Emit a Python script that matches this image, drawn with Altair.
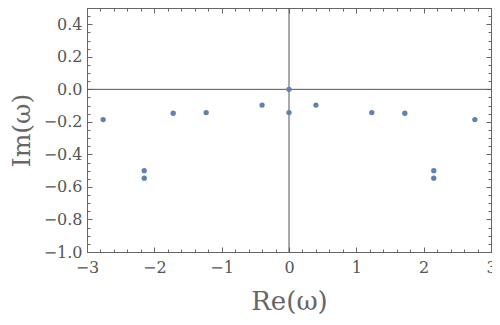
import altair as alt
import pandas as pd

# Data
re_vals = [-2.76, -2.15, -2.15, -1.72, -1.23, -0.40, 0.0, 0.0, 0.40, 1.23, 1.72, 2.15, 2.15, 2.76]
im_vals = [-0.186, -0.50, -0.546, -0.147, -0.143, -0.097, 0.0, -0.143, -0.097, -0.143, -0.147, -0.50, -0.546, -0.186]

x_major = [-3, -2, -1, 0, 1, 2, 3]
y_major = [-1.0, -0.8, -0.6, -0.4, -0.2, 0.0, 0.2, 0.4]
x_minor = [round(-3 + 0.2 * i, 2) for i in range(31)]
y_minor = [round(-1.0 + 0.05 * i, 2) for i in range(31)]

df = pd.DataFrame({"re": re_vals, "im": im_vals})

FONT = "DejaVu Serif"
LBL = "#555555"
TTL = "#666666"
AX = "#666666"
MAJ = 5
MIN = 3

xs = alt.Scale(domain=[-3, 3], nice=False, zero=False)
ys = alt.Scale(domain=[-1.0, 0.5], nice=False, zero=False)


def xaxis(orient, values, size, labels=False, title=None):
    kw = dict(orient=orient, values=values, tickSize=size, offset=-size, domain=False,
              grid=False, ticks=True, tickColor=AX, tickWidth=1, tickOpacity=1, labels=labels,
              labelFlush=False)
    if labels:
        kw.update(format="d", labelFont=FONT, labelFontSize=16, labelColor=LBL, labelPadding=7)
    if title:
        kw.update(title=title, titleFont=FONT, titleFontSize=26, titleFontWeight="normal",
                  titleColor=TTL, titlePadding=13)
    else:
        kw.update(title=None)
    return alt.Axis(**kw)


def yaxis(orient, values, size, labels=False, title=None):
    kw = dict(orient=orient, values=values, tickSize=size, offset=-size, domain=False,
              grid=False, ticks=True, tickColor=AX, tickWidth=1, tickOpacity=1, labels=labels,
              labelFlush=False)
    if labels:
        kw.update(format=".1f", labelFont=FONT, labelFontSize=16, labelColor=LBL, labelPadding=5)
    if title:
        kw.update(title=title, titleFont=FONT, titleFontSize=25, titleFontWeight="normal",
                  titleColor=TTL, titlePadding=9)
    else:
        kw.update(title=None)
    return alt.Axis(**kw)


base = alt.Chart(df)

vline = alt.Chart(pd.DataFrame({"v": [0]})).mark_rule(color="#555555", strokeWidth=1).encode(
    x=alt.X("v:Q", scale=xs, axis=None))
hline = alt.Chart(pd.DataFrame({"v": [0]})).mark_rule(color="#555555", strokeWidth=1).encode(
    y=alt.Y("v:Q", scale=ys, axis=None))

pts = base.mark_circle(size=28, color="#5E81B5", opacity=1).encode(
    x=alt.X("re:Q", scale=xs, axis=xaxis("bottom", x_major, MAJ, labels=True, title="Re(ω)")),
    y=alt.Y("im:Q", scale=ys, axis=yaxis("left", y_major, MAJ, labels=True, title="Im(ω)")),
)
minor1 = base.mark_circle(opacity=0).encode(
    x=alt.X("re:Q", scale=xs, axis=xaxis("bottom", x_minor, MIN)),
    y=alt.Y("im:Q", scale=ys, axis=yaxis("left", y_minor, MIN)),
)
top_right = base.mark_circle(opacity=0).encode(
    x=alt.X("re:Q", scale=xs, axis=xaxis("top", x_major, MAJ)),
    y=alt.Y("im:Q", scale=ys, axis=yaxis("right", y_major, MAJ)),
)
top_right_minor = base.mark_circle(opacity=0).encode(
    x=alt.X("re:Q", scale=xs, axis=xaxis("top", x_minor, MIN)),
    y=alt.Y("im:Q", scale=ys, axis=yaxis("right", y_minor, MIN)),
)

chart = alt.layer(vline, hline, minor1, top_right, top_right_minor, pts).resolve_axis(
    x="independent", y="independent"
).properties(
    width=404, height=244,
    autosize=alt.AutoSizeParams(type="none"),
    padding={"left": 79, "top": 0, "right": 1, "bottom": 65},
).configure_view(stroke="#666666", strokeWidth=1)

chart.save("out.html", embed_options={"renderer": "svg", "actions": False})
